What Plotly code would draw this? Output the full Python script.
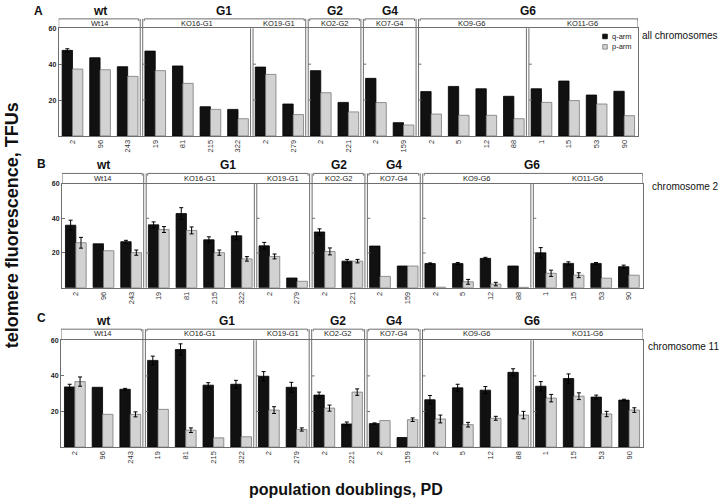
import numpy as np
import plotly.graph_objects as go

W, H = 720, 499
FONT = "Liberation Sans, Arial, Helvetica, sans-serif"

# ---------------- data ----------------
pd_labels = ["2", "96", "243", "19", "81", "215", "322", "2", "279", "2", "221",
             "2", "159", "2", "5", "12", "88", "1", "15", "53", "90"]
clones = ["Wt14", "KO16-G1", "KO19-G1", "KO2-G2", "KO7-G4", "KO9-G6", "KO11-G6"]
clone_sizes = [3, 4, 2, 2, 2, 4, 4]
groups = ["wt", "G1", "G2", "G4", "G6"]
group_sizes = [3, 6, 2, 2, 8]
panel_letters = ["A", "B", "C"]
panel_titles = ["all chromosomes", "chromosome 2", "chromosome 11"]

# panel A: all chromosomes
A_q = [47.7, 43.6, 38.6, 47.3, 39.0, 16.3, 14.8, 38.4, 17.8, 36.4, 18.7,
       32.1, 7.4, 24.7, 27.6, 26.3, 22.1, 26.3, 30.6, 22.8, 24.9]
A_q_err = [0.9, None, None, None, None, None, None, None, None, None, None,
           None, None, None, None, None, None, None, None, None, None]
A_p = [37.3, 36.9, 33.2, 36.4, 29.3, 14.8, 9.6, 34.3, 11.9, 24.1, 13.4,
       18.6, 6.1, 12.2, 11.5, 11.5, 9.6, 18.7, 19.7, 17.8, 11.3]
A_p_err = [None] * 21

# panel B: chromosome 2
B_q = [36.0, 25.3, 26.5, 36.2, 42.7, 27.6, 29.9, 24.1, 5.6, 32.1, 15.3,
       24.0, 12.5, 13.9, 13.9, 16.9, 12.5, 20.1, 14.0, 14.0, 12.1]
B_q_err = [2.9, None, 0.8, 1.7, 3.4, 1.7, 2.3, 2.0, None, 1.8, 1.0,
           None, None, 0.4, 0.6, 0.6, None, 3.0, 0.9, 0.5, 0.9]
B_p = [25.9, 21.3, 20.2, 33.5, 33.0, 20.2, 16.6, 18.0, 3.7, 20.9, 15.3,
       6.5, 12.5, 0.3, 3.4, 2.1, 0.2, 8.3, 7.2, 5.5, 7.2]
B_p_err = [3.1, None, 1.5, 1.7, 2.0, 1.5, 1.3, 1.4, None, 2.0, 1.0,
           None, None, None, 1.4, 1.0, None, 1.8, 1.4, None, None]

# panel C: chromosome 11
C_q = [33.8, 33.6, 32.5, 48.7, 54.8, 34.8, 35.3, 39.8, 33.6, 29.2, 13.0,
       13.2, 5.4, 26.6, 33.3, 32.0, 42.0, 34.2, 38.5, 28.1, 26.4]
C_q_err = [1.5, None, 0.5, 2.4, 3.2, 1.4, 2.2, 2.6, 2.8, 1.7, 1.1,
           0.4, None, 2.4, 2.0, 2.0, 2.0, 2.6, 2.6, 1.1, 0.5]
C_p = [36.8, 18.4, 18.4, 21.2, 9.5, 5.2, 5.8, 20.8, 9.9, 21.9, 30.9,
       14.9, 15.4, 15.8, 12.6, 16.2, 18.0, 27.5, 28.6, 18.6, 20.8]
C_p_err = [2.6, None, 1.4, None, 1.3, None, None, 1.9, 0.9, 1.7, 1.8,
           None, 1.0, 2.2, 1.3, 1.1, 2.1, 2.1, 1.9, 1.5, 1.3]

series = [(A_q, A_q_err, A_p, A_p_err),
          (B_q, B_q_err, B_p, B_p_err),
          (C_q, C_q_err, C_p, C_p_err)]

# ---------------- layout geometry (pixels) ----------------
panels = [
    dict(top=24.5, base=133, xl=58.7, xr=638, grp_y=7.5, br_y=15.0, clone_y=19.5,
         letter=(38.5, 7.5), side=(640, 32)),
    dict(top=181, base=286, xl=62, xr=642.7, grp_y=162, br_y=170.8, clone_y=175.5,
         letter=(41.5, 161.7), side=(650, 184)),
    dict(top=339, base=446.7, xl=61, xr=643, grp_y=320, br_y=327.8, clone_y=332.3,
         letter=(41, 317), side=(646, 345)),
]


def px(x):
    return x / W


def py(y):
    return 1 - y / H


LINE = "#6e6e6e"
fig = go.Figure()
xs = list(range(len(pd_labels)))
shapes = []
annotations = []
layout_axes = {}

for i, (q, qe, p, pe) in enumerate(series):
    sfx = "" if i == 0 else str(i + 1)
    xa, ya = "x" + sfx, "y" + sfx
    P = panels[i]
    fig.add_trace(go.Bar(
        x=xs, y=q, xaxis=xa, yaxis=ya, name="q-arm", offsetgroup="q",
        marker=dict(color="#111111", line=dict(color="#000000", width=0.8)),
        error_y=dict(type="data", array=np.array(qe, dtype=float), visible=True,
                     color="#000000", thickness=1, width=2),
        showlegend=False))
    fig.add_trace(go.Bar(
        x=xs, y=p, xaxis=xa, yaxis=ya, name="p-arm", offsetgroup="p",
        marker=dict(color="#d2d2d2", line=dict(color="#7a7a7a", width=0.8)),
        error_y=dict(type="data", array=np.array(pe, dtype=float), visible=True,
                     color="#000000", thickness=1, width=2),
        showlegend=False))

    layout_axes["xaxis" + sfx] = dict(
        domain=[px(P["xl"]), px(P["xr"])], anchor=ya, range=[-0.5, len(xs) - 0.5],
        tickmode="array", tickvals=xs, ticktext=pd_labels, tickangle=-90,
        tickfont=dict(size=7.5, color="#333333", family=FONT),
        showline=True, mirror=True, linecolor=LINE, linewidth=1,
        ticks="", showgrid=False, zeroline=False, fixedrange=True)
    layout_axes["yaxis" + sfx] = dict(
        domain=[py(P["base"]), py(P["top"])], anchor=xa, range=[0, 60],
        tickmode="array", tickvals=[20, 40, 60], ticks="inside", ticklen=3,
        tickcolor=LINE, tickfont=dict(size=7, color="#222222", family=FONT, weight="bold"),
        showline=True, mirror=True, linecolor=LINE, linewidth=1,
        showgrid=False, zeroline=False, fixedrange=True)

    # clone boundaries (double lines)
    bounds = np.cumsum(clone_sizes)[:-1] - 0.5
    group_bounds = set((np.cumsum(group_sizes)[:-1] - 0.5).tolist())
    for b in bounds:
        y_up = P["br_y"] if b in group_bounds else P["top"]
        for d in (-0.045, 0.045):
            shapes.append(dict(type="line", xref=xa, yref="paper",
                               x0=b + d, x1=b + d, y0=py(P["base"]), y1=py(y_up),
                               line=dict(color=LINE, width=1)))
        for yv in (20, 40):
            shapes.append(dict(type="line", xref=xa, yref=ya,
                               x0=b + 0.045, x1=b + 0.15, y0=yv, y1=yv,
                               line=dict(color=LINE, width=1)))
    # outer verticals extend up to bracket
    for xb in (-0.5, len(xs) - 0.5):
        shapes.append(dict(type="line", xref=xa, yref="paper", x0=xb, x1=xb,
                           y0=py(P["top"]), y1=py(P["br_y"]),
                           line=dict(color=LINE, width=1)))

    # group brackets and labels
    start = 0
    for g, n in zip(groups, group_sizes):
        x0, x1 = start - 0.5 + 0.1, start + n - 0.5 - 0.1
        if start == 0:
            x0 = start - 0.55
        if start + n == len(xs):
            x1 = start + n - 0.5
        shapes.append(dict(type="path", xref=xa, yref="paper",
                           path=f"M{x0},{py(P['br_y'] + 2.2)} L{x0},{py(P['br_y'])} "
                                f"L{x1},{py(P['br_y'])} L{x1},{py(P['br_y'] + 2.2)}",
                           line=dict(color=LINE, width=1)))
        annotations.append(dict(xref=xa, yref="paper", x=start + (n - 1) / 2,
                                y=py(P["grp_y"]), text=g, showarrow=False,
                                font=dict(size=12, family=FONT, color="#111111", weight="bold"),
                                xanchor="center", yanchor="middle"))
        start += n

    # clone labels
    start = 0
    for c, n in zip(clones, clone_sizes):
        annotations.append(dict(xref=xa, yref="paper", x=start + (n - 1) / 2,
                                y=py(P["clone_y"]), text=c, showarrow=False,
                                font=dict(size=7.5, family=FONT, color="#222222"),
                                xanchor="center", yanchor="middle"))
        start += n

    # panel letter and side title
    annotations.append(dict(xref="paper", yref="paper", x=px(P["letter"][0]),
                            y=py(P["letter"][1]), text=panel_letters[i], showarrow=False,
                            font=dict(size=12, family=FONT, color="#111111", weight="bold"),
                            xanchor="center", yanchor="middle"))
    annotations.append(dict(xref="paper", yref="paper", x=px(P["side"][0]),
                            y=py(P["side"][1]), text=panel_titles[i], showarrow=False,
                            font=dict(size=10, family=FONT, color="#111111"),
                            xanchor="left", yanchor="middle"))

# legend (panel A)
for (label, fill, edge, yc) in [("q-arm", "#111111", "#000000", 32.7),
                                 ("p-arm", "#d2d2d2", "#7a7a7a", 43.2)]:
    shapes.append(dict(type="rect", xref="paper", yref="paper",
                       x0=px(602.7), x1=px(607.3), y0=py(yc + 2.3), y1=py(yc - 2.3),
                       fillcolor=fill, line=dict(color=edge, width=0.8)))
    annotations.append(dict(xref="paper", yref="paper", x=px(610), y=py(yc),
                            text=label, showarrow=False,
                            font=dict(size=7.5, family=FONT, color="#222222"),
                            xanchor="left", yanchor="middle"))

# axis titles
annotations.append(dict(xref="paper", yref="paper", x=px(12), y=py(223),
                        text="telomere fluorescence, TFUs", textangle=-90, showarrow=False,
                        font=dict(size=18, family=FONT, color="#111111", weight="bold"),
                        xanchor="center", yanchor="middle"))
annotations.append(dict(xref="paper", yref="paper", x=px(346), y=py(489),
                        text="population doublings, PD", showarrow=False,
                        font=dict(size=16, family=FONT, color="#111111", weight="bold"),
                        xanchor="center", yanchor="middle"))

fig.update_layout(
    width=W, height=H, margin=dict(l=0, r=0, t=0, b=0),
    paper_bgcolor="white", plot_bgcolor="white",
    barmode="group", bargap=0.25, bargroupgap=0,
    showlegend=False, shapes=shapes, annotations=annotations,
    font=dict(family=FONT),
    **layout_axes)

# remove the default page margin so the 720x499 figure fills the window exactly
fig.write_html("out.html",
               config={"displayModeBar": False, "staticPlot": True},
               post_script="document.body.style.margin='0';document.body.style.overflow='hidden';")
